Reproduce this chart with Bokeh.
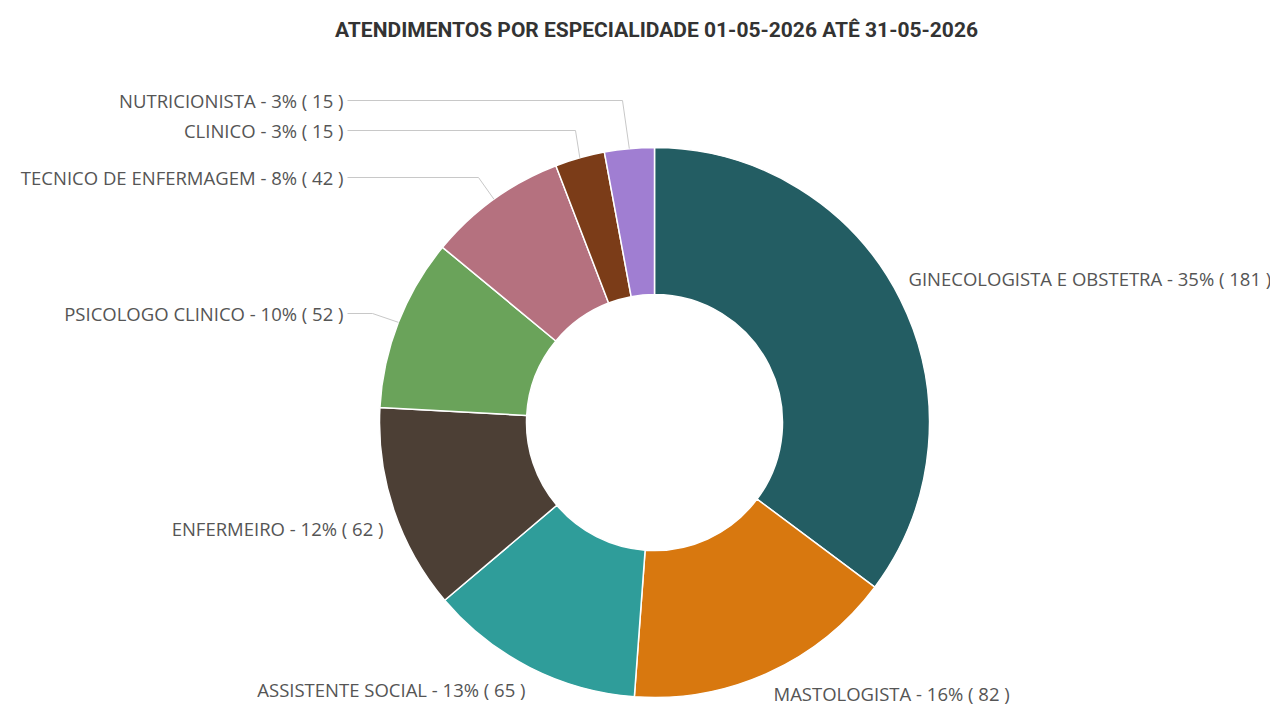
import math
from bokeh.plotting import figure
from bokeh.models import Range1d, ColumnDataSource
from bokeh.core.properties import value
from bokeh.embed import file_html
from bokeh.resources import INLINE

# ---- data ----
categories = ["GINECOLOGISTA E OBSTETRA", "MASTOLOGISTA", "ASSISTENTE SOCIAL", "ENFERMEIRO",
              "PSICOLOGO CLINICO", "TECNICO DE ENFERMAGEM", "CLINICO", "NUTRICIONISTA"]
counts = [181, 82, 65, 62, 52, 42, 15, 15]
colors = ["#235d63", "#d8780f", "#2f9d9a", "#4c3f35", "#6aa35a", "#b5717f", "#7b3c18", "#a07ed2"]
title_text = "ATENDIMENTOS POR ESPECIALIDADE 01-05-2026 ATÊ 31-05-2026"

# ---- layout (screen pixels, y down) ----
W, H = 1270, 707
CX, CY = 654, 422
R_OUT, R_IN = 275, 128
# label anchor (x, y, align) and leader elbow x (None = no leader)
label_pos = [(908, 278, "left"), (773, 693, "left"), (525, 689, "right"), (383, 528, "right"),
             (343, 313, "right"), (343, 177, "right"), (343, 130, "right"), (343, 100, "right")]
elbow_x = [None, None, None, None, 372, 478, 575, 622]

def sy(y):
    return -y

p = figure(width=W, height=H, output_backend="svg", toolbar_location=None,
           x_range=Range1d(0, W), y_range=Range1d(-H, 0),
           min_border=0, outline_line_color=None)
p.axis.visible = False
p.grid.visible = False
p.background_fill_color = "white"

total = sum(counts)
starts, ends, mids = [], [], []
acc = 0
for c in counts:
    a0 = math.pi / 2 - 2 * math.pi * acc / total
    acc += c
    a1 = math.pi / 2 - 2 * math.pi * acc / total
    starts.append(a0)
    ends.append(a1)
    mids.append((a0 + a1) / 2)

src = ColumnDataSource(dict(start=starts, end=ends, color=colors))
p.annular_wedge(x=CX, y=sy(CY), inner_radius=R_IN, outer_radius=R_OUT,
                start_angle="start", end_angle="end", direction="clock",
                fill_color="color", line_color="white", line_width=1.5, source=src)

labels = [f"{n} - {round(100 * c / total)}% ( {c} )" for n, c in zip(categories, counts)]

for i, (lab, (lx, ly, al)) in enumerate(zip(labels, label_pos)):
    ex = elbow_x[i]
    if ex is not None:
        px = CX + R_OUT * math.cos(mids[i])
        py = sy(CY) + R_OUT * math.sin(mids[i])
        p.line([lx + 4, ex, px], [sy(ly), sy(ly), py], line_color="#c8c8c8", line_width=1)
    p.text(x=[lx], y=[sy(ly)], text=[lab], text_align=al, text_baseline="middle",
           text_font=value("Open Sans"), text_font_size="18.5px", text_color="#555555")

p.text(x=[656], y=[sy(29)], text=[title_text], text_align="center", text_baseline="middle",
       text_font=value("Roboto"), text_font_style="bold",
       text_font_size="21px", text_color="#333333")

open("out.html", "w").write(file_html(p, INLINE))
